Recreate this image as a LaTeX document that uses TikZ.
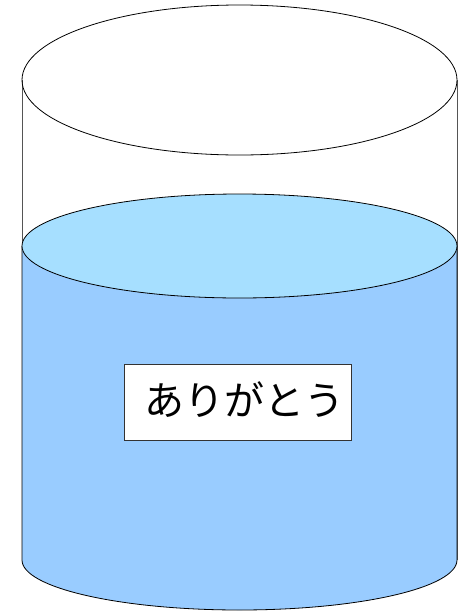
\documentclass[tikz,border=0pt]{standalone}
\usepackage{fontspec}
\newfontfamily\cjk{Noto Sans CJK JP}
\definecolor{waterbody}{HTML}{99CCFF}
\definecolor{watertop}{HTML}{A6DFFF}
\definecolor{sideline}{HTML}{555555}
\tikzset{
  outline/.style={draw=black, line width=0.8pt},
  labelbox/.style={draw=black!80, fill=white, line width=0.8pt, minimum width=227pt, minimum height=76pt, inner sep=0pt},
  labeltext/.style={font=\cjk\fontsize{40}{44}\selectfont, text=black, inner sep=0pt}
}
\begin{document}
\begin{tikzpicture}[x=1pt,y=-1pt]
\useasboundingbox (0,0) rectangle (470,611);
% glass walls
\draw[draw=sideline, line width=0.8pt] (22,80) -- (22,560);
\draw[draw=sideline, line width=0.8pt] (457,80) -- (457,560);
% water body
\fill[waterbody] (22,246) -- (22,560) arc[start angle=180, end angle=360, x radius=217.5, y radius=-50] -- (457,246) -- cycle;
\draw[outline] (22,246) -- (22,560) arc[start angle=180, end angle=360, x radius=217.5, y radius=-50] -- (457,246);
% glass rim
\draw[outline] (239.5,80) ellipse[x radius=217.5, y radius=75];
% water surface
\draw[outline, fill=watertop] (239.5,246) ellipse[x radius=217.5, y radius=52];
% label
\node[labelbox, anchor=north west] (lbl) at (124,364) {};
\node[labeltext, anchor=west] (txt) at (144,400) {ありがとう};
\end{tikzpicture}
\end{document}
